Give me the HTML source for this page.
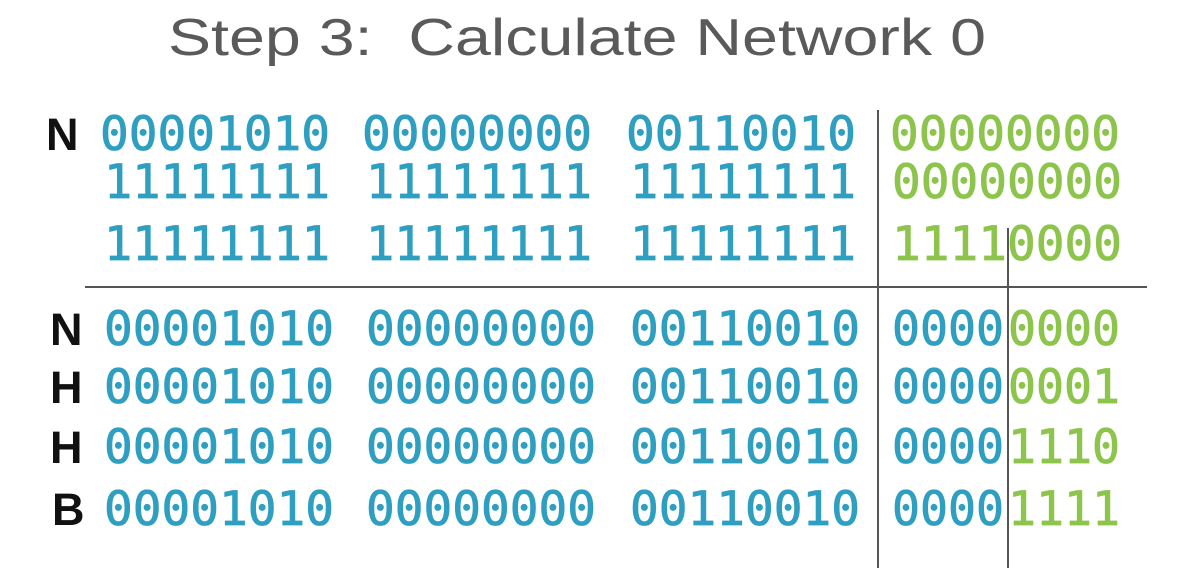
<!DOCTYPE html>
<html><head><style>
html,body{margin:0;padding:0;background:#fff;}
svg{display:block;}
.d{font-family:"DejaVu Sans Mono","Liberation Mono",monospace;font-size:47px;font-weight:normal;}
.b{fill:#2f9fc1;stroke:#2f9fc1;stroke-width:0.8;}
.g{fill:#8dc44b;stroke:#8dc44b;stroke-width:0.8;}
.l{font-family:"Liberation Sans",sans-serif;font-weight:bold;font-size:45px;fill:#111;}
</style></head><body>
<svg width="1180" height="568" viewBox="0 0 1180 568" xmlns="http://www.w3.org/2000/svg">
<text x="168" y="55" font-family="Liberation Sans, sans-serif" font-size="52" fill="#5a5a5a" textLength="818" lengthAdjust="spacingAndGlyphs" xml:space="preserve">Step 3:  Calculate Network 0</text>

<g stroke="#555" stroke-width="2">
<line x1="85" y1="287" x2="1147" y2="287"/>
<line x1="878" y1="110" x2="878" y2="568"/>
<line x1="1008" y1="228" x2="1008" y2="568"/>
</g>

<text class="l" x="46" y="150">N</text>
<text class="l" x="50" y="345">N</text>
<text class="l" x="50" y="403">H</text>
<text class="l" x="50" y="463">H</text>
<text class="l" x="52" y="525">B</text>

<g class="d">
<text class="b" x="100" y="150" textLength="230" lengthAdjust="spacingAndGlyphs">00001010</text>
<text class="b" x="362" y="150" textLength="230" lengthAdjust="spacingAndGlyphs">00000000</text>
<text class="b" x="626" y="150" textLength="230" lengthAdjust="spacingAndGlyphs">00110010</text>
<text class="g" x="890" y="150" textLength="230" lengthAdjust="spacingAndGlyphs">00000000</text>

<text class="b" x="104" y="198" textLength="226" lengthAdjust="spacingAndGlyphs">11111111</text>
<text class="b" x="366" y="198" textLength="226" lengthAdjust="spacingAndGlyphs">11111111</text>
<text class="b" x="630" y="198" textLength="226" lengthAdjust="spacingAndGlyphs">11111111</text>
<text class="g" x="892" y="198" textLength="230" lengthAdjust="spacingAndGlyphs">00000000</text>

<text class="b" x="104" y="260" textLength="226" lengthAdjust="spacingAndGlyphs">11111111</text>
<text class="b" x="366" y="260" textLength="226" lengthAdjust="spacingAndGlyphs">11111111</text>
<text class="b" x="630" y="260" textLength="226" lengthAdjust="spacingAndGlyphs">11111111</text>
<text class="g" x="892" y="260" textLength="230" lengthAdjust="spacingAndGlyphs">11110000</text>

<text class="b" x="104" y="345" textLength="230" lengthAdjust="spacingAndGlyphs">00001010</text>
<text class="b" x="366" y="345" textLength="230" lengthAdjust="spacingAndGlyphs">00000000</text>
<text class="b" x="630" y="345" textLength="230" lengthAdjust="spacingAndGlyphs">00110010</text>
<text class="b" x="892" y="345" textLength="112" lengthAdjust="spacingAndGlyphs">0000</text>
<text class="g" x="1008" y="345" textLength="112" lengthAdjust="spacingAndGlyphs">0000</text>

<text class="b" x="104" y="403" textLength="230" lengthAdjust="spacingAndGlyphs">00001010</text>
<text class="b" x="366" y="403" textLength="230" lengthAdjust="spacingAndGlyphs">00000000</text>
<text class="b" x="630" y="403" textLength="230" lengthAdjust="spacingAndGlyphs">00110010</text>
<text class="b" x="892" y="403" textLength="112" lengthAdjust="spacingAndGlyphs">0000</text>
<text class="g" x="1008" y="403" textLength="112" lengthAdjust="spacingAndGlyphs">0001</text>

<text class="b" x="104" y="463" textLength="230" lengthAdjust="spacingAndGlyphs">00001010</text>
<text class="b" x="366" y="463" textLength="230" lengthAdjust="spacingAndGlyphs">00000000</text>
<text class="b" x="630" y="463" textLength="230" lengthAdjust="spacingAndGlyphs">00110010</text>
<text class="b" x="892" y="463" textLength="112" lengthAdjust="spacingAndGlyphs">0000</text>
<text class="g" x="1008" y="463" textLength="112" lengthAdjust="spacingAndGlyphs">1110</text>

<text class="b" x="104" y="525" textLength="230" lengthAdjust="spacingAndGlyphs">00001010</text>
<text class="b" x="366" y="525" textLength="230" lengthAdjust="spacingAndGlyphs">00000000</text>
<text class="b" x="630" y="525" textLength="230" lengthAdjust="spacingAndGlyphs">00110010</text>
<text class="b" x="892" y="525" textLength="112" lengthAdjust="spacingAndGlyphs">0000</text>
<text class="g" x="1008" y="525" textLength="112" lengthAdjust="spacingAndGlyphs">1111</text>
</g>
</svg>
</body></html>
